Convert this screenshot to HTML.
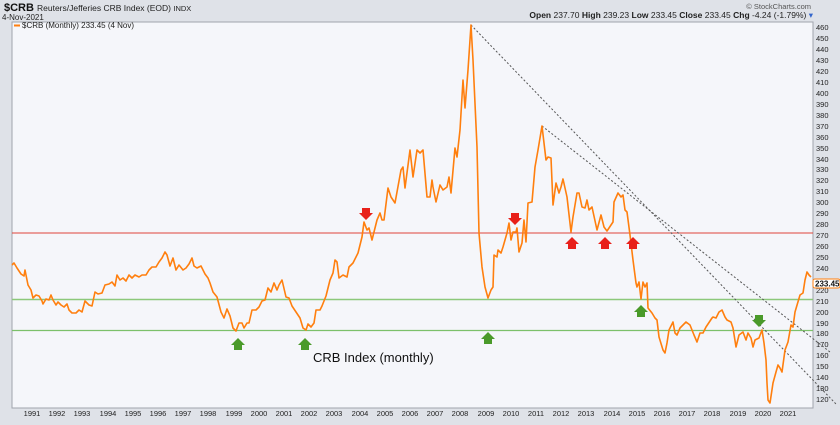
<!DOCTYPE html>
<html><head><meta charset="utf-8"><style>
body{margin:0;width:840px;height:420px;overflow:hidden;background:#dfe2e8;font-family:"Liberation Sans",sans-serif}
</style></head><body>
<svg width="840" height="420" xmlns="http://www.w3.org/2000/svg" font-family="Liberation Sans, sans-serif">
<rect width="840" height="420" fill="#dfe2e8"/>
<rect x="12" y="22" width="801" height="386" fill="#f5f6fa" stroke="#a0a4ac" stroke-width="1"/>
<text x="4" y="11" font-size="11" font-weight="bold" fill="#111">$CRB</text>
<text x="37" y="11" font-size="8.5" fill="#222">Reuters/Jefferies CRB Index (EOD) <tspan font-size="7.5">INDX</tspan></text>
<text x="2" y="20" font-size="8" fill="#222">4-Nov-2021</text>
<line x1="14" y1="25.5" x2="20" y2="25.5" stroke="#ff7f0e" stroke-width="2"/>
<text x="22" y="28" font-size="8" fill="#222">$CRB (Monthly) 233.45 (4 Nov)</text>
<text x="811" y="9" font-size="7.5" fill="#555" text-anchor="end">© StockCharts.com</text>
<text x="813" y="18" font-size="8.5" fill="#222" text-anchor="end"><tspan font-weight="bold">Open</tspan> 237.70 <tspan font-weight="bold">High</tspan> 239.23 <tspan font-weight="bold">Low</tspan> 233.45 <tspan font-weight="bold">Close</tspan> 233.45 <tspan font-weight="bold">Chg</tspan> -4.24 (-1.79%) <tspan fill="#36c">▾</tspan></text>
<line x1="12" y1="233" x2="813" y2="233" stroke="#e0443a" stroke-width="1"/>
<line x1="12" y1="299.5" x2="813" y2="299.5" stroke="#8cc87a" stroke-width="1.5"/>
<line x1="12" y1="330.5" x2="813" y2="330.5" stroke="#7cc06a" stroke-width="1.2"/>
<line x1="471" y1="25" x2="836" y2="404" stroke="#555" stroke-width="1" stroke-dasharray="2,2"/>
<line x1="542" y1="126" x2="830" y2="352" stroke="#555" stroke-width="1" stroke-dasharray="2,2"/>
<polyline fill="none" stroke="#ff7f0e" stroke-width="1.6" stroke-linejoin="round" points="12,265 14,263 17,268 21,274 24,276 25,270 28,285 31,290 33,298 36,295 39,296 42,301 43,304 46,299 49,300 51,295 53,300 56,305 58,302 61,305 64,307 67,304 69,310 72,313 76,313 79,310 82,312 85,301 89,305 92,306 95,292 98,294 102,293 105,285 109,284 112,282 115,286 117,275 120,280 123,278 126,281 129,275 132,278 135,275 139,277 142,275 146,275 149,270 152,267 156,267 159,262 162,258 165,252 167,255 170,266 173,258 176,270 179,265 183,270 186,268 189,264 192,258 194,266 197,268 201,266 205,274 208,278 210,283 213,292 217,297 221,312 224,318 227,309 230,316 233,328 236,331 239,323 242,323 244,328 247,323 249,323 252,310 256,310 259,307 262,301 265,300 268,288 271,292 274,283 277,290 279,285 282,280 286,297 289,298 292,306 296,312 300,318 303,328 306,330 308,324 311,327 314,323 316,310 320,310 322,306 326,296 328,288 330,280 333,273 335,260 337,262 339,278 343,275 347,277 349,267 353,263 358,253 362,237 364,222 367,230 369,228 372,240 377,220 380,213 382,220 384,220 388,188 391,197 395,203 401,170 403,167 405,188 410,150 413,177 417,150 420,153 423,150 427,197 430,197 432,180 433,187 436,202 440,185 443,190 447,187 449,177 451,193 455,148 457,157 460,130 463,80 465,108 468,70 471,25 473,60 477,147 479,233 482,267 485,287 488,298 491,290 493,287 494,255 497,257 498,250 501,253 503,247 507,233 509,223 511,240 513,232 516,232 517,228 519,252 522,243 524,220 526,242 528,203 532,202 535,167 538,150 542,126 546,160 548,157 551,158 553,205 556,183 559,193 561,187 563,179 567,197 571,232 573,217 577,193 579,193 582,207 585,208 587,200 589,210 592,207 597,230 601,215 604,227 607,231 613,222 614,202 618,193 621,197 623,195 625,210 627,212 630,235 633,260 636,283 637,287 639,282 641,299 643,282 645,287 647,283 648,308 652,313 655,318 657,320 659,337 663,350 665,353 667,343 669,330 673,322 675,333 677,335 680,328 686,322 690,325 694,335 697,342 700,333 703,333 706,327 712,318 713,317 716,318 719,312 722,310 725,317 727,320 731,322 733,328 736,347 739,335 743,332 746,340 748,333 751,338 753,347 755,340 759,338 762,330 764,343 766,360 767,383 768,400 770,403 773,383 776,372 778,365 780,368 782,372 785,350 788,342 791,325 793,327 795,312 800,295 803,293 805,280 807,272 809,275 811,277"/>
<g fill="#e8201a">
<path d="M362,208h8v5h3l-7,7l-7,-7h3z"/>
<path d="M511,213h8v5h3l-7,7l-7,-7h3z"/>
<path d="M568,249h8v-5h3l-7,-7l-7,7h3z"/>
<path d="M601,249h8v-5h3l-7,-7l-7,7h3z"/>
<path d="M629,249h8v-5h3l-7,-7l-7,7h3z"/>
</g>
<g fill="#4a9a2a">
<path d="M234,350h8v-5h3l-7,-7l-7,7h3z"/>
<path d="M301,350h8v-5h3l-7,-7l-7,7h3z"/>
<path d="M484,344h8v-5h3l-7,-7l-7,7h3z"/>
<path d="M637,317h8v-5h3l-7,-7l-7,7h3z"/>
<path d="M755,315h8v5h3l-7,7l-7,-7h3z"/>
</g>
<text x="313" y="362" font-size="13" fill="#111">CRB Index (monthly)</text>
<g font-size="7.5" fill="#222">
<text x="816" y="402">120</text><text x="816" y="391">130</text><text x="816" y="380">140</text><text x="816" y="369">150</text><text x="816" y="358">160</text><text x="816" y="347">170</text><text x="816" y="336">180</text><text x="816" y="326">190</text><text x="816" y="315">200</text><text x="816" y="304">210</text><text x="816" y="293">220</text><text x="816" y="271">240</text><text x="816" y="260">250</text><text x="816" y="249">260</text><text x="816" y="238">270</text><text x="816" y="227">280</text><text x="816" y="216">290</text><text x="816" y="205">300</text><text x="816" y="194">310</text><text x="816" y="183">320</text><text x="816" y="172">330</text><text x="816" y="162">340</text><text x="816" y="151">350</text><text x="816" y="140">360</text><text x="816" y="129">370</text><text x="816" y="118">380</text><text x="816" y="107">390</text><text x="816" y="96">400</text><text x="816" y="85">410</text><text x="816" y="74">420</text><text x="816" y="63">430</text><text x="816" y="52">440</text><text x="816" y="41">450</text><text x="816" y="30">460</text>
</g>
<rect x="813" y="279" width="27" height="9" fill="#fff" stroke="#ff7f0e" stroke-width="1" rx="2"/>
<text x="815" y="286.5" font-size="8" font-weight="bold" fill="#111">233.45</text>
<g font-size="7.5" fill="#222" text-anchor="middle">
<text x="32" y="416">1991</text><text x="57" y="416">1992</text><text x="82" y="416">1993</text><text x="108" y="416">1994</text><text x="133" y="416">1995</text><text x="158" y="416">1996</text><text x="183" y="416">1997</text><text x="208" y="416">1998</text><text x="234" y="416">1999</text><text x="259" y="416">2000</text><text x="284" y="416">2001</text><text x="309" y="416">2002</text><text x="334" y="416">2003</text><text x="360" y="416">2004</text><text x="385" y="416">2005</text><text x="410" y="416">2006</text><text x="435" y="416">2007</text><text x="460" y="416">2008</text><text x="486" y="416">2009</text><text x="511" y="416">2010</text><text x="536" y="416">2011</text><text x="561" y="416">2012</text><text x="586" y="416">2013</text><text x="612" y="416">2014</text><text x="637" y="416">2015</text><text x="662" y="416">2016</text><text x="687" y="416">2017</text><text x="712" y="416">2018</text><text x="738" y="416">2019</text><text x="763" y="416">2020</text><text x="788" y="416">2021</text>
</g>
</svg>
</body></html>
